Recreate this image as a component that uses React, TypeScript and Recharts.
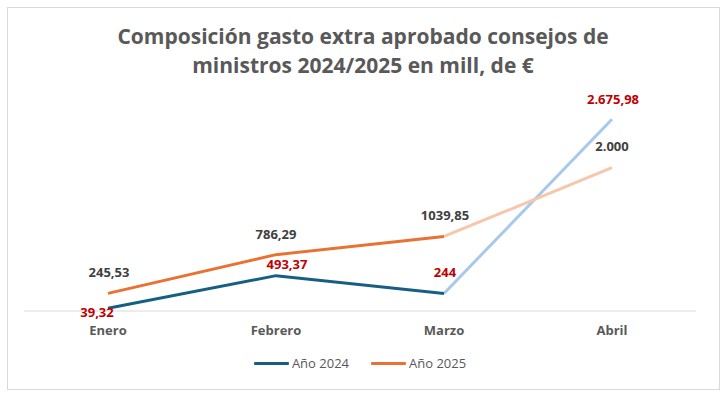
import React from 'react';
import { LineChart, Line, XAxis, YAxis, LabelList, Legend } from 'recharts';

const months = ['Enero', 'Febrero', 'Marzo', 'Abril'];
const values2024 = [39.32, 493.37, 244, 2675.98];
const values2025 = [245.53, 786.29, 1039.85, 2000];
const labels2024 = ['39,32', '493,37', '244', '2.675,98'];
const labels2025 = ['245,53', '786,29', '1039,85', '2.000'];
const seriesNames = ['Año 2024', 'Año 2025'];

const lastIdx = months.length - 1;
const data = months.map((m, i) => ({
  month: m,
  a2024: i < lastIdx ? values2024[i] : null,
  a2024tail: i >= lastIdx - 1 ? values2024[i] : null,
  a2025: i < lastIdx ? values2025[i] : null,
  a2025tail: i >= lastIdx - 1 ? values2025[i] : null,
}));

const C2024 = '#156082';
const C2024L = '#A6C9EC';
const C2025 = '#E97132';
const C2025L = '#F7C7AC';
const FONT = '"Open Sans", sans-serif';

// label offsets (dx, dy) relative to the point, per series/index
const off2024: [number, number][] = [[-11, 5], [11, -10], [1, -20], [1, -19]];
const off2025: [number, number][] = [[1, -20], [0, -19], [1, -20], [0, -20]];

const makeLabel = (labels: string[], color: string, offs: [number, number][], allowed: (i: number) => boolean) =>
  (props: any) => {
    const { x, y, index, value } = props;
    if (value == null || !allowed(index)) return null;
    const [dx, dy] = offs[index];
    return (
      <text x={x + dx} y={y + dy} textAnchor="middle" dominantBaseline="middle" fill={color}
        fontFamily={FONT} fontWeight={700} fontSize={13}>
        {labels[index]}
      </text>
    );
  };

const LegendContent = () => (
  <div style={{ display: 'flex', justifyContent: 'center', alignItems: 'center', gap: 22, fontFamily: FONT, fontSize: 13, color: '#595959', height: 20 }}>
    {[C2024, C2025].map((c, i) => (
      <div key={i} style={{ display: 'flex', alignItems: 'center' }}>
        <div style={{ width: 35, height: 3, background: c, marginRight: 3, borderRadius: 1 }} />
        <span>{seriesNames[i]}</span>
      </div>
    ))}
  </div>
);

export default function App() {
  return (
    <div style={{ position: 'fixed', left: 0, top: 0, width: 726, height: 398, background: '#fff' }}>
      <div style={{ position: 'absolute', left: 7, top: 7, width: 711, height: 381, border: '1px solid #d9d9d9' }} />
      <div style={{ position: 'absolute', left: 0, top: 22, width: 726, textAlign: 'center', fontFamily: FONT, fontWeight: 700, fontSize: 21, lineHeight: '29px', color: '#595959' }}>
        Composición gasto extra aprobado consejos de<br />ministros 2024/2025 en mill, de €
      </div>
      <div style={{ position: 'absolute', left: 0, top: 0 }}>
        <LineChart width={726} height={398} data={data} margin={{ top: 96, right: 30, bottom: 25, left: 24 }}>
          <XAxis dataKey="month" padding={{ left: 84, right: 84 }} axisLine={{ stroke: '#d9d9d9' }} tickLine={false}
            height={42} tick={{ fill: '#595959', fontFamily: FONT, fontWeight: 700, fontSize: 13 }} tickMargin={9} />
          <YAxis hide domain={[0, 3000]} />
          <Legend verticalAlign="bottom" height={20} content={<LegendContent />} />
          <Line dataKey="a2024tail" stroke={C2024L} strokeWidth={3} dot={false} legendType="none" isAnimationActive={false}>
            <LabelList dataKey="a2024tail" content={makeLabel(labels2024, '#C00000', off2024, (i) => i === lastIdx)} />
          </Line>
          <Line dataKey="a2025tail" stroke={C2025L} strokeWidth={3} dot={false} legendType="none" isAnimationActive={false}>
            <LabelList dataKey="a2025tail" content={makeLabel(labels2025, '#404040', off2025, (i) => i === lastIdx)} />
          </Line>
          <Line dataKey="a2024" name={seriesNames[0]} stroke={C2024} strokeWidth={3} dot={false} isAnimationActive={false}>
            <LabelList dataKey="a2024" content={makeLabel(labels2024, '#C00000', off2024, (i) => i < lastIdx)} />
          </Line>
          <Line dataKey="a2025" name={seriesNames[1]} stroke={C2025} strokeWidth={3} dot={false} isAnimationActive={false}>
            <LabelList dataKey="a2025" content={makeLabel(labels2025, '#404040', off2025, (i) => i < lastIdx)} />
          </Line>
        </LineChart>
      </div>
    </div>
  );
}
